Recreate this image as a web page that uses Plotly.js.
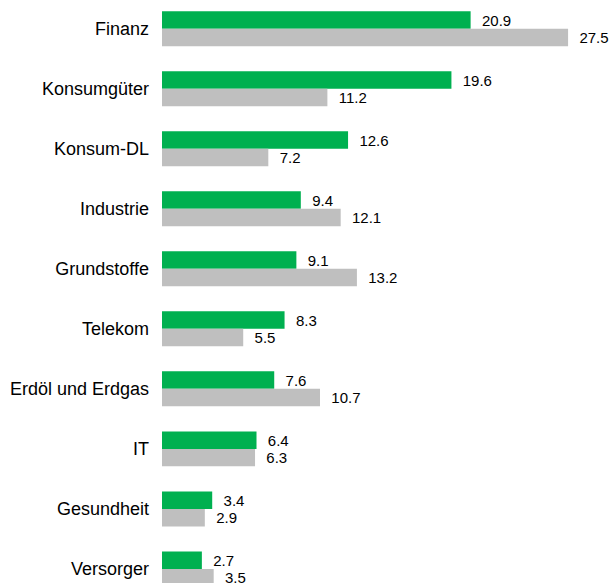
<!DOCTYPE html>
<html>
<head>
<meta charset="utf-8">
<script src="https://cdn.plot.ly/plotly-3.0.1.min.js"></script>
<style>html,body{margin:0;padding:0;background:#fff;}#chart{width:616px;height:583px;}</style>
</head>
<body>
<div id="chart"></div>
<script>
const categories = ["Finanz","Konsumgüter","Konsum-DL","Industrie","Grundstoffe","Telekom","Erdöl und Erdgas","IT","Gesundheit","Versorger"];
const seriesGreen = [20.9,19.6,12.6,9.4,9.1,8.3,7.6,6.4,3.4,2.7];
const seriesGray = [27.5,11.2,7.2,12.1,13.2,5.5,10.7,6.3,2.9,3.5];

const common = {
  type: 'bar', orientation: 'h', y: categories,
  texttemplate: '  %{x:.1f}', textposition: 'outside', cliponaxis: false,
  textfont: {family: 'Liberation Sans, Arial, sans-serif', size: 15, color: '#000'},
  hoverinfo: 'none'
};
const data = [
  Object.assign({}, common, {name: 'A', x: seriesGreen, marker: {color: '#00B050'}}),
  Object.assign({}, common, {name: 'B', x: seriesGray, marker: {color: '#BFBFBF'}})
];
const layout = {
  width: 616, height: 583,
  margin: {l: 162, r: 11, t: 0, b: 0, pad: 0},
  paper_bgcolor: '#fff', plot_bgcolor: '#fff',
  showlegend: false,
  barmode: 'group', bargap: 0.417, bargroupgap: 0,
  font: {family: 'Liberation Sans, Arial, sans-serif', color: '#000'},
  xaxis: {range: [0, 30], visible: false, fixedrange: true},
  yaxis: {
    type: 'category', range: [9.235, -0.48],
    showline: false, showgrid: false, zeroline: false, ticks: '',
    ticklabelstandoff: 12,
    tickfont: {family: 'Liberation Sans, Arial, sans-serif', size: 18, color: '#000'}
  }
};
Plotly.newPlot('chart', data, layout, {staticPlot: true, displayModeBar: false});
</script>
</body>
</html>
